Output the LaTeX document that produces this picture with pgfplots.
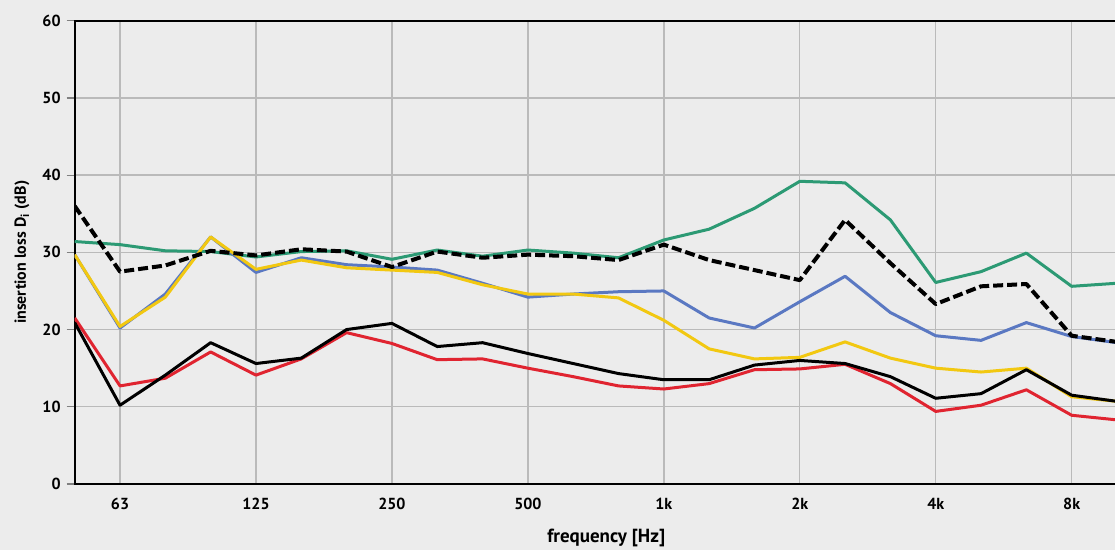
\documentclass[border=0pt]{standalone}
\usepackage{pgfplots}
\pgfplotsset{compat=1.18}
\usepackage{fontspec}
\setmainfont{PT Sans}

\definecolor{bg}{HTML}{ECECEC}
\definecolor{cgreen}{HTML}{2C9A74}
\definecolor{cblue}{HTML}{5A78C2}
\definecolor{cyellow}{HTML}{F2C811}
\definecolor{cred}{HTML}{E02430}

% x = third-octave band index: 0 = 50 Hz, 1 = 63 Hz, ..., 22 = 8 kHz, 23 = 10 kHz
\begin{document}
\begin{tikzpicture}
\fill[bg] (-37.35pt,-33pt) rectangle (520.15pt,242pt);
\begin{axis}[
    scale only axis,
    width=521.15pt, height=231.65pt,
    xmin=0, xmax=23, ymin=0, ymax=60,
    xtick={1,4,7,10,13,16,19,22},
    xticklabels={63,125,250,500,1k,2k,4k,8k},
    ytick={0,10,...,60},
    grid=major,
    grid style={draw=black!27, line width=0.7pt},
    axis line style={line width=1pt},
    tick align=outside,
    major tick length=4pt,
    xtick style={draw=none},
    ytick style={draw=black!50, line width=0.6pt},
    /pgf/number format/assume math mode=true,
    tick label style={font=\bfseries\fontsize{8}{9}\selectfont},
    xticklabel style={yshift=0.5pt},
    yticklabel style={xshift=0.5pt},
    xlabel={frequency [Hz]},
    ylabel={insertion loss D\textsubscript{i} (dB)},
    every axis x label/.style={at={(axis description cs:0.51,-0.1166)}, anchor=center,
        font=\bfseries\fontsize{9.5}{11}\selectfont},
    every axis y label/.style={at={(axis description cs:-0.0505,0.50)}, rotate=90, anchor=center,
        font=\bfseries\fontsize{8}{9}\selectfont},
    every axis plot/.append style={line width=1.5pt, line join=round, no markers},
]
% green
\addplot[cgreen] coordinates {
(0,31.4) (1,31.0) (2,30.2) (3,30.1) (4,29.4) (5,30.1) (6,30.2) (7,29.1)
(8,30.3) (9,29.5) (10,30.3) (11,29.9) (12,29.3) (13,31.6) (14,33.0) (15,35.7)
(16,39.2) (17,39.0) (18,34.2) (19,26.1) (20,27.5) (21,29.9) (22,25.6) (23,26.0)};
% blue
\addplot[cblue] coordinates {
(0,29.7) (1,20.2) (2,24.6) (3,32.0) (4,27.4) (5,29.3) (6,28.4) (7,28.1)
(8,27.7) (9,26.0) (10,24.2) (11,24.6) (12,24.9) (13,25.0) (14,21.5) (15,20.2)
(16,23.6) (17,26.9) (18,22.2) (19,19.2) (20,18.6) (21,20.9) (22,19.1) (23,18.3)};
% yellow
\addplot[cyellow] coordinates {
(0,29.7) (1,20.4) (2,24.2) (3,32.0) (4,27.8) (5,29.0) (6,28.0) (7,27.7)
(8,27.4) (9,25.8) (10,24.6) (11,24.6) (12,24.1) (13,21.2) (14,17.5) (15,16.2)
(16,16.4) (17,18.4) (18,16.3) (19,15.0) (20,14.5) (21,15.0) (22,11.3) (23,10.7)};
% red
\addplot[cred] coordinates {
(0,21.5) (1,12.7) (2,13.7) (3,17.1) (4,14.1) (5,16.2) (6,19.6) (7,18.2)
(8,16.1) (9,16.2) (10,15.0) (11,13.9) (12,12.7) (13,12.3) (14,13.0) (15,14.8)
(16,14.9) (17,15.5) (18,13.0) (19,9.4) (20,10.2) (21,12.2) (22,8.9) (23,8.3)};
% black solid
\addplot[black] coordinates {
(0,20.9) (1,10.2) (2,14.1) (3,18.3) (4,15.6) (5,16.3) (6,20.0) (7,20.8)
(8,17.8) (9,18.3) (10,16.9) (11,15.6) (12,14.3) (13,13.5) (14,13.5) (15,15.4)
(16,16.0) (17,15.6) (18,13.9) (19,11.1) (20,11.7) (21,14.8) (22,11.5) (23,10.7)};
% black dashed
\addplot[black, line width=2pt, dash pattern=on 5pt off 2pt] coordinates {
(0,36.0) (1,27.5) (2,28.3) (3,30.2) (4,29.6) (5,30.4) (6,30.1) (7,28.1)
(8,30.1) (9,29.3) (10,29.7) (11,29.5) (12,29.0) (13,31.0) (14,29.0) (15,27.7)
(16,26.4) (17,34.2) (18,28.6) (19,23.3) (20,25.6) (21,25.9) (22,19.2) (23,18.4)};
\end{axis}
\pgfresetboundingbox
\path[use as bounding box] (-37.35pt,-33pt) rectangle (520.15pt,242pt);
\end{tikzpicture}
\end{document}
